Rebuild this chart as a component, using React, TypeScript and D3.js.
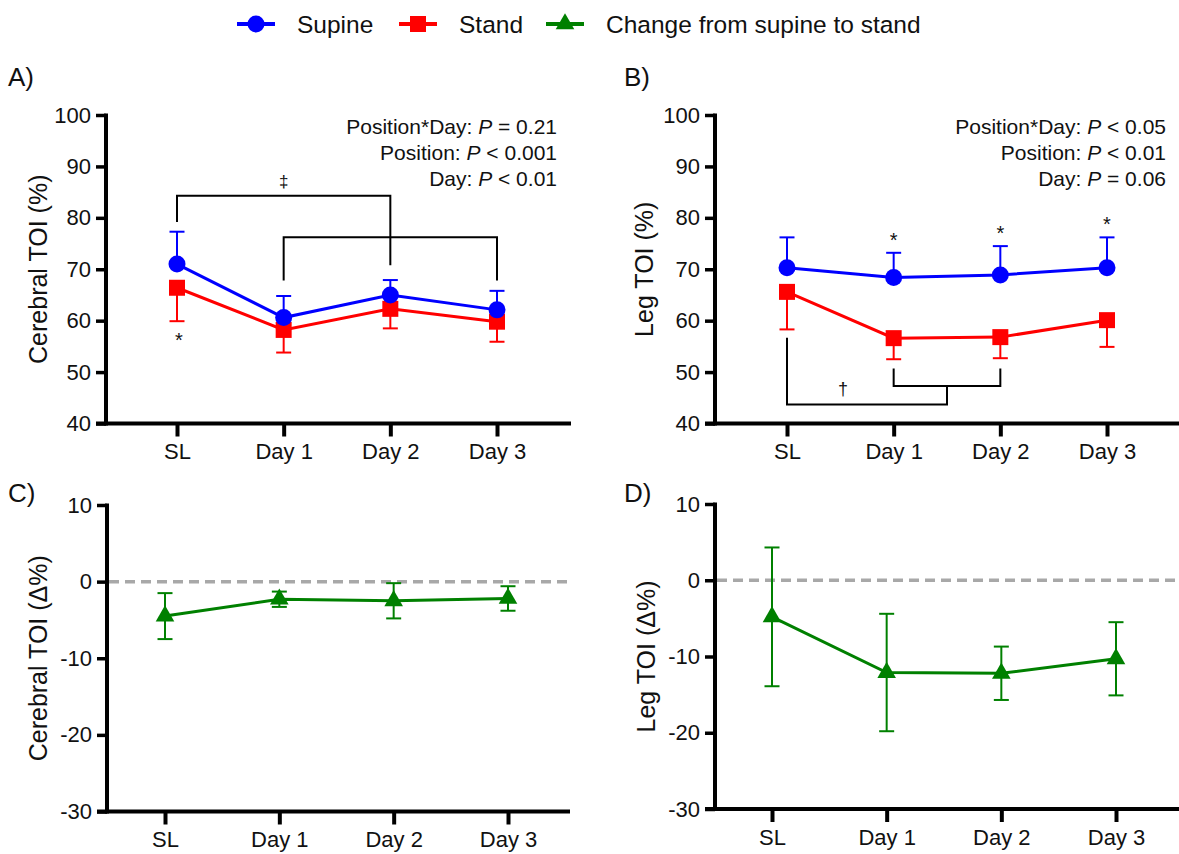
import React, { useEffect, useRef } from "react";
import * as d3 from "d3";

// categories and values (mean and SD)
const categories = ["SL", "Day 1", "Day 2", "Day 3"];

const cerebralSupine = [71.0, 60.6, 65.0, 62.1];
const cerebralSupineSD = [6.3, 4.2, 2.9, 3.7];
const cerebralStand = [66.4, 58.2, 62.3, 59.8];
const cerebralStandSD = [6.5, 4.4, 3.8, 3.9];

const legSupine = [70.3, 68.4, 68.9, 70.3];
const legSupineSD = [5.9, 4.8, 5.6, 5.9];
const legStand = [65.6, 56.6, 56.8, 60.1];
const legStandSD = [7.3, 4.1, 4.1, 5.2];

const cerebralChange = [-4.5, -2.3, -2.5, -2.2];
const cerebralChangeSD = [3.0, 1.0, 2.3, 1.6];
const legChange = [-4.8, -12.1, -12.2, -10.3];
const legChangeSD = [9.1, 7.7, 3.5, 4.8];

const toiTicks = [40, 50, 60, 70, 80, 90, 100];
const deltaTicks = [-30, -20, -10, 0, 10];

const statsA = [["Position*Day: ", "P", " = 0.21"], ["Position: ", "P", " < 0.001"], ["Day: ", "P", " < 0.01"]];
const statsB = [["Position*Day: ", "P", " < 0.05"], ["Position: ", "P", " < 0.01"], ["Day: ", "P", " = 0.06"]];

const legendItems = ["Supine", "Stand", "Change from supine to stand"];

const BLUE = "#0000ff";
const RED = "#ff0000";
const GREEN = "#008000";
const FONT = "Arial, 'Liberation Sans', Helvetica, sans-serif";

export default function App() {
  const ref = useRef(null);

  useEffect(() => {
    const svg = d3.select(ref.current);
    svg.selectAll("*").remove();
    svg.attr("font-family", FONT);

    function panel(o) {
      const g = svg.append("g");
      const x = d3.scalePoint().domain(categories).range(o.xr);
      const y = d3.scaleLinear().domain(o.yd).range(o.yr);
      const y0 = o.yr[0];

      // y axis
      const ya = g.append("g").attr("transform", `translate(${o.ax},0)`)
        .call(d3.axisLeft(y).tickValues(o.ticks).tickSize(10).tickSizeOuter(0).tickPadding(5).tickFormat((d) => String(d)));
      ya.select(".domain").remove();
      ya.selectAll(".tick line").attr("stroke", "#000").attr("stroke-width", 3.5);
      ya.selectAll(".tick text").attr("font-size", 22).attr("fill", "#111").attr("font-family", FONT);
      g.append("line").attr("x1", o.ax).attr("x2", o.ax).attr("y1", o.yr[1] - 1.5).attr("y2", y0 + 2)
        .attr("stroke", "#000").attr("stroke-width", 4);

      // x axis
      const xa = g.append("g").attr("transform", `translate(0,${y0})`)
        .call(d3.axisBottom(x).tickSize(13).tickPadding(7));
      xa.select(".domain").remove();
      xa.selectAll(".tick line").attr("stroke", "#000").attr("stroke-width", 4);
      xa.selectAll(".tick text").attr("font-size", 22).attr("fill", "#111").attr("font-family", FONT);
      g.append("line").attr("x1", o.ax - 10).attr("x2", o.axEnd).attr("y1", y0).attr("y2", y0)
        .attr("stroke", "#000").attr("stroke-width", 4);

      // axis title
      g.append("text")
        .attr("transform", `translate(${o.titleX},${(o.yr[0] + o.yr[1]) / 2}) rotate(-90)`)
        .attr("text-anchor", "middle").attr("dominant-baseline", "middle")
        .attr("font-size", 25).attr("fill", "#111").text(o.title);

      // panel letter
      g.append("text").attr("x", o.letterX).attr("y", o.letterY)
        .attr("font-size", 26).attr("fill", "#111").text(o.letter);

      if (o.zero) {
        g.append("line").attr("x1", o.ax + 2).attr("x2", o.axEnd).attr("y1", y(0)).attr("y2", y(0))
          .attr("stroke", "#a8a8a8").attr("stroke-width", 3.5).attr("stroke-dasharray", "10,6");
      }
      return { g, x, y };
    }

    function series(p, means, sds, color, dir, shape) {
      const { g, x, y } = p;
      const pts = means.map((m, i) => ({ c: categories[i], m, sd: sds[i] }));
      const eb = g.append("g").attr("stroke", color).attr("stroke-width", 2);
      pts.forEach((d) => {
        const cx = x(d.c);
        const ends = dir === "both" ? [d.m + d.sd, d.m - d.sd] : [dir === "up" ? d.m + d.sd : d.m - d.sd];
        ends.forEach((e) => {
          eb.append("line").attr("x1", cx).attr("x2", cx).attr("y1", y(d.m)).attr("y2", y(e));
          eb.append("line").attr("x1", cx - 7.5).attr("x2", cx + 7.5).attr("y1", y(e)).attr("y2", y(e));
        });
      });
      g.append("path")
        .attr("d", d3.line().x((d) => x(d.c)).y((d) => y(d.m))(pts))
        .attr("fill", "none").attr("stroke", color).attr("stroke-width", 3);
      g.append("g").selectAll("path").data(pts).join("path")
        .attr("transform", (d) => `translate(${x(d.c)},${y(d.m)})`)
        .attr("d", d3.symbol().type(shape).size(shape === d3.symbolTriangle ? 150 : shape === d3.symbolSquare ? 256 : 227)())
        .attr("fill", color);
    }

    function stats(lines, right) {
      lines.forEach((l, i) => {
        const t = svg.append("text").attr("x", right).attr("y", 134 + i * 26)
          .attr("text-anchor", "end").attr("font-size", 21).attr("fill", "#111");
        t.append("tspan").text(l[0]);
        t.append("tspan").attr("font-style", "italic").text(l[1]);
        t.append("tspan").text(l[2]);
      });
    }

    function bracket(g, pts) {
      g.append("path").attr("d", d3.line()(pts)).attr("fill", "none").attr("stroke", "#000").attr("stroke-width", 2);
    }

    function mark(g, cx, cy, s, size) {
      g.append("text").attr("x", cx).attr("y", cy).attr("text-anchor", "middle")
        .attr("dominant-baseline", "central").attr("font-size", size).attr("fill", "#111").text(s);
    }

    // A
    const A = panel({ xr: [177, 497], yd: [40, 100], yr: [423.5, 115], ticks: toiTicks, ax: 106, axEnd: 571,
      title: "Cerebral TOI (%)", titleX: 40, letter: "A)", letterX: 8, letterY: 86 });
    {
      const { g, x, y } = A;
      bracket(g, [[x("SL"), y(79.2)], [x("SL"), y(84.3)], [x("Day 2"), y(84.3)], [x("Day 2"), y(70.8)]]);
      bracket(g, [[x("Day 1"), y(67.8)], [x("Day 1"), y(76.2)], [x("Day 3"), y(76.2)], [x("Day 3"), y(67.8)]]);
      mark(g, x("Day 1"), y(84.3) - 14, "\u2021", 17);
    }
    series(A, cerebralStand, cerebralStandSD, RED, "down", d3.symbolSquare);
    series(A, cerebralSupine, cerebralSupineSD, BLUE, "up", d3.symbolCircle);
    mark(A.g, A.x("SL") + 2, A.y(cerebralStand[0] - cerebralStandSD[0]) + 19, "*", 20);
    stats(statsA, 557);

    // B
    const B = panel({ xr: [787, 1107], yd: [40, 100], yr: [423.5, 115], ticks: toiTicks, ax: 715, axEnd: 1179,
      title: "Leg TOI (%)", titleX: 646, letter: "B)", letterX: 624, letterY: 86 });
    {
      const { g, x, y } = B;
      const mid = (x("Day 1") + x("Day 2")) / 2;
      bracket(g, [[x("Day 1"), y(50.7)], [x("Day 1"), y(47.3)], [x("Day 2"), y(47.3)], [x("Day 2"), y(50.7)]]);
      bracket(g, [[mid, y(47.3)], [mid, y(43.7)], [x("SL"), y(43.7)], [x("SL"), y(56.7)]]);
      mark(g, (x("SL") + mid) / 2 - 24, y(43.7) - 15, "\u2020", 18);
    }
    series(B, legStand, legStandSD, RED, "down", d3.symbolSquare);
    series(B, legSupine, legSupineSD, BLUE, "up", d3.symbolCircle);
    [1, 2, 3].forEach((i) => {
      mark(B.g, B.x(categories[i]), B.y(legSupine[i] + legSupineSD[i]) - 13, "*", 20);
    });
    stats(statsB, 1166);

    // C
    const C = panel({ xr: [165, 508], yd: [-30, 10], yr: [811.5, 505], ticks: deltaTicks, ax: 107, axEnd: 570,
      title: "Cerebral TOI (\u0394%)", titleX: 40, letter: "C)", letterX: 8, letterY: 502, zero: true });
    series(C, cerebralChange, cerebralChangeSD, GREEN, "both", d3.symbolTriangle);

    // D
    const D = panel({ xr: [772, 1116], yd: [-30, 10], yr: [809, 504], ticks: deltaTicks, ax: 715, axEnd: 1179,
      title: "Leg TOI (\u0394%)", titleX: 648, letter: "D)", letterX: 624, letterY: 502, zero: true });
    series(D, legChange, legChangeSD, GREEN, "both", d3.symbolTriangle);

    // legend
    const lg = svg.append("g");
    const lx = [237, 399, 546];
    const colors = [BLUE, RED, GREEN];
    const shapes = [d3.symbolCircle, d3.symbolSquare, d3.symbolTriangle];
    legendItems.forEach((name, i) => {
      lg.append("line").attr("x1", lx[i]).attr("x2", lx[i] + 38).attr("y1", 24).attr("y2", 24)
        .attr("stroke", colors[i]).attr("stroke-width", 4);
      lg.append("path").attr("transform", `translate(${lx[i] + 19},${24})`)
        .attr("d", d3.symbol().type(shapes[i]).size(i === 2 ? 150 : i === 1 ? 256 : 227)())
        .attr("fill", colors[i]);
      lg.append("text").attr("x", lx[i] + 60).attr("y", 24).attr("dominant-baseline", "central")
        .attr("font-size", 24.5).attr("fill", "#111").text(name);
    });
  }, []);

  return (
    <div style={{ position: "absolute", left: 0, top: 0 }}>
      <svg ref={ref} width={1179} height={854} style={{ display: "block", background: "#fff" }} />
    </div>
  );
}
